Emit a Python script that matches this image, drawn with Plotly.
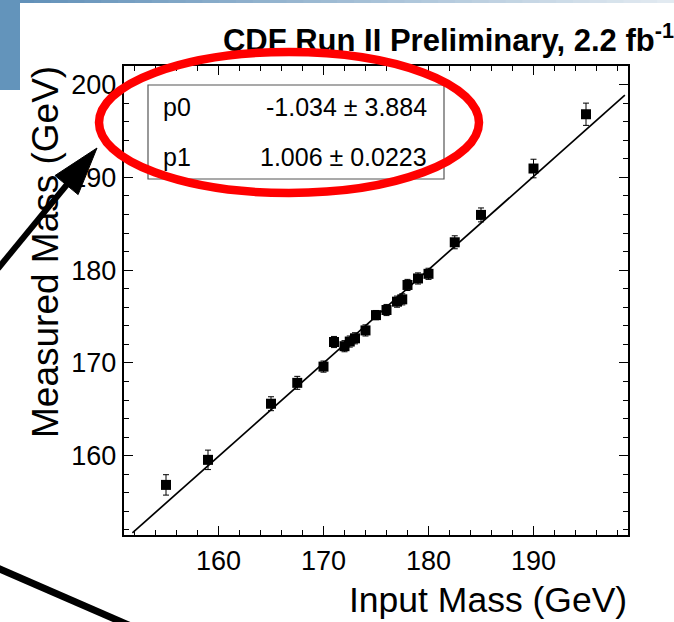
import plotly.graph_objects as go

# ---------------- data ----------------
input_mass = [155, 159, 165, 167.5, 170, 171, 172, 172.5, 173, 174, 175,
              176, 177, 177.5, 178, 179, 180, 182.5, 185, 190, 195]
measured_mass = [156.85, 159.55, 165.6, 167.85, 169.6, 172.25, 171.8, 172.3,
                 172.65, 173.5, 175.15, 175.7, 176.6, 176.85, 178.4, 179.1,
                 179.6, 183.0, 185.95, 190.95, 196.8]
measured_err = [1.1, 1.05, 0.75, 0.7, 0.6, 0.6, 0.6, 0.6, 0.6, 0.6, 0.5,
                0.6, 0.6, 0.6, 0.6, 0.6, 0.6, 0.7, 0.75, 1.0, 1.2]

fit_p0, fit_p0_err = -1.034, 3.884
fit_p1, fit_p1_err = 1.006, 0.0223
fit_range = [151.8, 198.7]

x_range = [151, 199]
y_range = [151.45, 202]

title_text = "CDF Run II Preliminary, 2.2 fb<sup>-1</sup>"
x_title = "Input Mass (GeV)"
y_title = "Measured Mass (GeV)"

# ---------------- layout geometry ----------------
W, H = 674, 622
L, R, T, B = 124, 628, 66, 535          # plot area in pixels

FONT = "Liberation Sans, Arial, sans-serif"

fig = go.Figure()

# fit line
fit_x = fit_range
fit_y = [fit_p0 + fit_p1 * v for v in fit_x]
fig.add_trace(go.Scatter(x=fit_x, y=fit_y, mode="lines",
                         line=dict(color="black", width=1.7),
                         hoverinfo="skip", showlegend=False))

# data points
fig.add_trace(go.Scatter(
    x=input_mass, y=measured_mass, mode="markers",
    marker=dict(symbol="square", size=10, color="black"),
    error_y=dict(type="data", array=measured_err, color="black",
                 thickness=1, width=3),
    showlegend=False))

# overlay "canvas" subplot covering the whole figure (pixel coordinates)
# title drawn as text there so the red ellipse shape sits on top of it
fig.add_trace(go.Scatter(
    x=[674], y=[43], mode="text", text=["<b>" + title_text + "</b>"],
    textposition="middle left", hoverinfo="skip", xaxis="x2", yaxis="y2",
    textfont=dict(family=FONT, size=31, color="black"), showlegend=False))

shapes = []
PX = dict(xref="x2", yref="y2")

# stats box
shapes.append(dict(type="rect", x0=148, x1=444, y0=85, y1=179,
                   fillcolor="white", line=dict(color="#555555", width=1.2),
                   layer="above", **PX))

# blue header strip (gradient approximated by bands)
c0 = (95, 143, 184)
c1 = (226, 234, 241)
n = 40
for i in range(n):
    t = i / (n - 1)
    col = tuple(int(c0[k] + (c1[k] - c0[k]) * t) for k in range(3))
    shapes.append(dict(type="rect", x0=W * i / n, x1=W * (i + 1) / n + 1,
                       y0=-1, y1=3, fillcolor="rgb(%d,%d,%d)" % col,
                       line=dict(width=0), layer="above", **PX))
# left blue block
shapes.append(dict(type="rect", x0=-2, x1=20, y0=0, y1=90,
                   fillcolor="#6394bb", line=dict(width=0), layer="above", **PX))

# red ellipse
shapes.append(dict(type="circle", x0=99, x1=479, y0=52, y1=193,
                   line=dict(color="#ff0000", width=8.5), layer="above", **PX))

# arrow 1 (towards the stats box)
tail = (-2, 268.5)
tip = (97, 148)
ddx, ddy = tip[0] - tail[0], tip[1] - tail[1]
ln = (ddx * ddx + ddy * ddy) ** 0.5
ux, uy = ddx / ln, ddy / ln
nx, ny = -uy, ux
head_len, head_w = 48, 15
bx, by = tip[0] - head_len * ux, tip[1] - head_len * uy
shapes.append(dict(type="line", x0=tail[0], y0=tail[1], x1=bx + 3 * ux, y1=by + 3 * uy,
                   line=dict(color="black", width=6), layer="above", **PX))
p1 = (bx + head_w * nx, by + head_w * ny)
p2 = (bx - head_w * nx, by - head_w * ny)
shapes.append(dict(type="path",
                   path="M %f %f L %f %f L %f %f Z" % (tip[0], tip[1], p1[0], p1[1], p2[0], p2[1]),
                   fillcolor="black", line=dict(color="black", width=1),
                   layer="above", **PX))

# arrow 2 (lower line)
shapes.append(dict(type="line", x0=-5, y0=567, x1=140, y1=630,
                   line=dict(color="black", width=7), layer="above", **PX))

annotations = []
# axis titles
annotations.append(dict(text=x_title, xref="x2", yref="y2",
                        x=629, y=600, xanchor="right", yanchor="middle",
                        showarrow=False, font=dict(family=FONT, size=35.5, color="black")))
annotations.append(dict(text=y_title, xref="x2", yref="y2",
                        x=45, y=64, xanchor="center", yanchor="top",
                        textangle=-90, showarrow=False,
                        font=dict(family=FONT, size=37, color="black")))
# stats text
stat_font = dict(family=FONT, size=25, color="black")
annotations.append(dict(text="p0", xref="x2", yref="y2", x=161, y=107,
                        xanchor="left", yanchor="middle", showarrow=False, font=stat_font))
annotations.append(dict(text="p1", xref="x2", yref="y2", x=161, y=157,
                        xanchor="left", yanchor="middle", showarrow=False, font=stat_font))
annotations.append(dict(text="%.3f \u00b1 %.3f" % (fit_p0, fit_p0_err), xref="x2", yref="y2",
                        x=429, y=107, xanchor="right", yanchor="middle",
                        showarrow=False, font=stat_font))
annotations.append(dict(text="%.3f \u00b1 %.4f" % (fit_p1, fit_p1_err), xref="x2", yref="y2",
                        x=429, y=157, xanchor="right", yanchor="middle",
                        showarrow=False, font=stat_font))

axis_common = dict(showgrid=False, zeroline=False, showline=True, linecolor="black",
                   linewidth=2.4, mirror="ticks", ticks="inside", ticklen=9,
                   tickwidth=1.3, tickcolor="black", tickmode="linear", tick0=0, dtick=10,
                   tickfont=dict(family=FONT, size=27, color="black"),
                   minor=dict(ticks="inside", tick0=0, dtick=2, ticklen=5, tickwidth=1.2,
                              tickcolor="black", showgrid=False))

fig.update_layout(
    width=W, height=H,
    margin=dict(l=0, r=0, t=0, b=0, pad=0),
    paper_bgcolor="white", plot_bgcolor="rgba(0,0,0,0)",
    xaxis=dict(range=x_range, domain=[L / W, R / W], anchor="y", **axis_common),
    yaxis=dict(range=y_range, domain=[(H - B) / H, (H - T) / H], anchor="x", **axis_common),
    xaxis2=dict(range=[0, W], domain=[0, 1], anchor="y2", visible=False, fixedrange=True),
    yaxis2=dict(range=[H, 0], domain=[0, 1], anchor="x2", visible=False, fixedrange=True),
    shapes=shapes, annotations=annotations, showlegend=False,
)

fig.write_html("out.html")
